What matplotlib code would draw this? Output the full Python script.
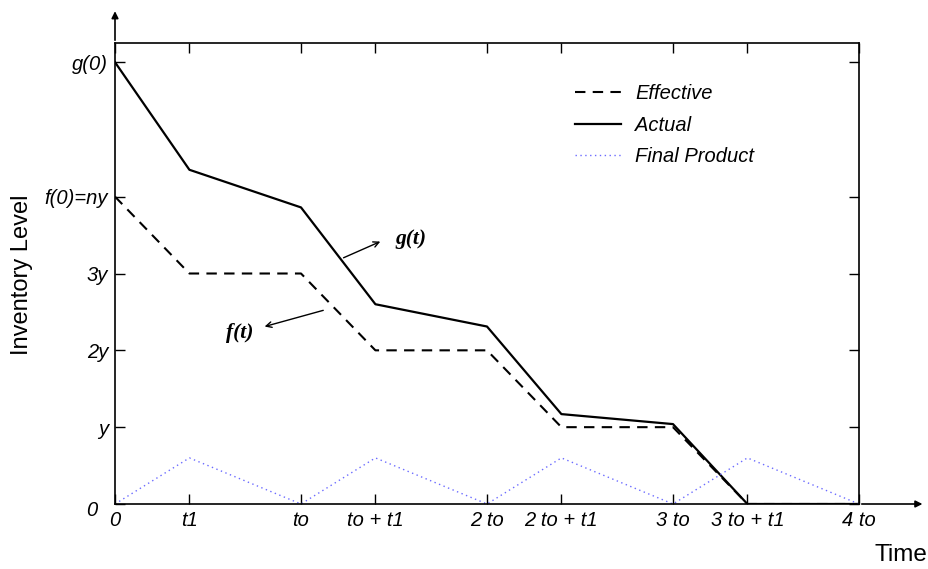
import matplotlib
matplotlib.use("Agg")
import matplotlib.pyplot as plt
import matplotlib.transforms as mtransforms

# Data
t_o = 1.0
t_1 = 0.4
x_points = [0, 0.4, 1.0, 1.4, 2.0, 2.4, 3.0, 3.4, 4.0]
effective = [4, 3, 3, 2, 2, 1, 1, 0, 0]
actual = [5.75, 4.35, 3.86, 2.6, 2.31, 1.17, 1.04, 0, 0]
final_product = [0, 0.6, 0, 0.6, 0, 0.6, 0, 0.6, 0]

x_ticks = [0, 0.4, 1.0, 1.4, 2.0, 2.4, 3.0, 3.4, 4.0]
x_tick_labels = ["0", "t1", "to", "to + t1", "2 to", "2 to + t1", "3 to", "3 to + t1", "4 to"]
y_ticks = [0, 1, 2, 3, 4, 5.75]
y_tick_labels = ["0", "y", "2y", "3y", "f(0)=ny", "g(0)"]

sans = ["Liberation Sans", "DejaVu Sans"]
serif = ["Liberation Serif", "DejaVu Serif"]

fig = plt.figure(figsize=(9.29, 5.69), dpi=100)
ax = fig.add_axes([115/929, 1 - 504/569, (859-115)/929, (504-43)/569])

ax.plot(x_points, effective, color="black", lw=1.5, ls=(0, (5, 3.5)), label="Effective")
ax.plot(x_points, actual, color="black", lw=1.6, label="Actual")
ax.plot(x_points, final_product, color="#6b6bff", lw=1.0, ls=(0, (1, 2.5)), label="Final Product")

ax.set_xlim(0, 4)
ax.set_ylim(0, 6)

ax.set_xticks(x_ticks)
ax.set_xticklabels(x_tick_labels, fontstyle="italic", fontsize=14.5, family=sans)
ax.set_yticks(y_ticks)
ax.set_yticklabels(y_tick_labels, fontstyle="italic", fontsize=14.5, family=sans)
ax.tick_params(direction="in", length=7, width=1, top=True, right=True, colors="black", pad=5)
for lbl in ax.get_yticklabels():
    if lbl.get_text() == "0":
        lbl.set_transform(lbl.get_transform() +
                          mtransforms.ScaledTranslation(-11/100, -4/100, fig.dpi_scale_trans))

for s in ax.spines.values():
    s.set_linewidth(1.2)

# axis arrows
ax.annotate("", xy=(0, 1.075), xycoords="axes fraction", xytext=(0, 1.0),
            arrowprops=dict(arrowstyle="-|>", color="black", lw=1.2, mutation_scale=10))
ax.annotate("", xy=(1.089, 0), xycoords="axes fraction", xytext=(1.0, 0),
            arrowprops=dict(arrowstyle="-|>", color="black", lw=1.2, mutation_scale=10))

fig.text(22/929, 1 - 275/569, "Inventory Level", rotation=90, ha="center", va="center",
         fontsize=17, family=sans)
fig.text(901/929, 1 - 555/569, "Time", ha="center", va="center", fontsize=17.5, family=sans)

# annotations
ax.annotate("", xy=(1.44, 3.43), xytext=(1.215, 3.19),
            arrowprops=dict(arrowstyle="->", color="black", lw=1.0))
ax.text(1.51, 3.45, "g(t)", fontsize=15.5, fontweight="bold", fontstyle="italic",
        family=serif, ha="left", va="center")
ax.annotate("", xy=(0.79, 2.30), xytext=(1.134, 2.53),
            arrowprops=dict(arrowstyle="->", color="black", lw=1.0))
ax.text(0.67, 2.23, "f(t)", fontsize=15.5, fontweight="bold", fontstyle="italic",
        family=serif, ha="center", va="center")

leg = ax.legend(loc="upper left", bbox_to_anchor=(0.618, 0.91), frameon=False,
                borderpad=0, borderaxespad=0,
                handlelength=2.3, handletextpad=0.7, labelspacing=0.6,
                prop=dict(family=sans, style="italic", size=14.5))

fig.savefig("out.png", dpi=100)
